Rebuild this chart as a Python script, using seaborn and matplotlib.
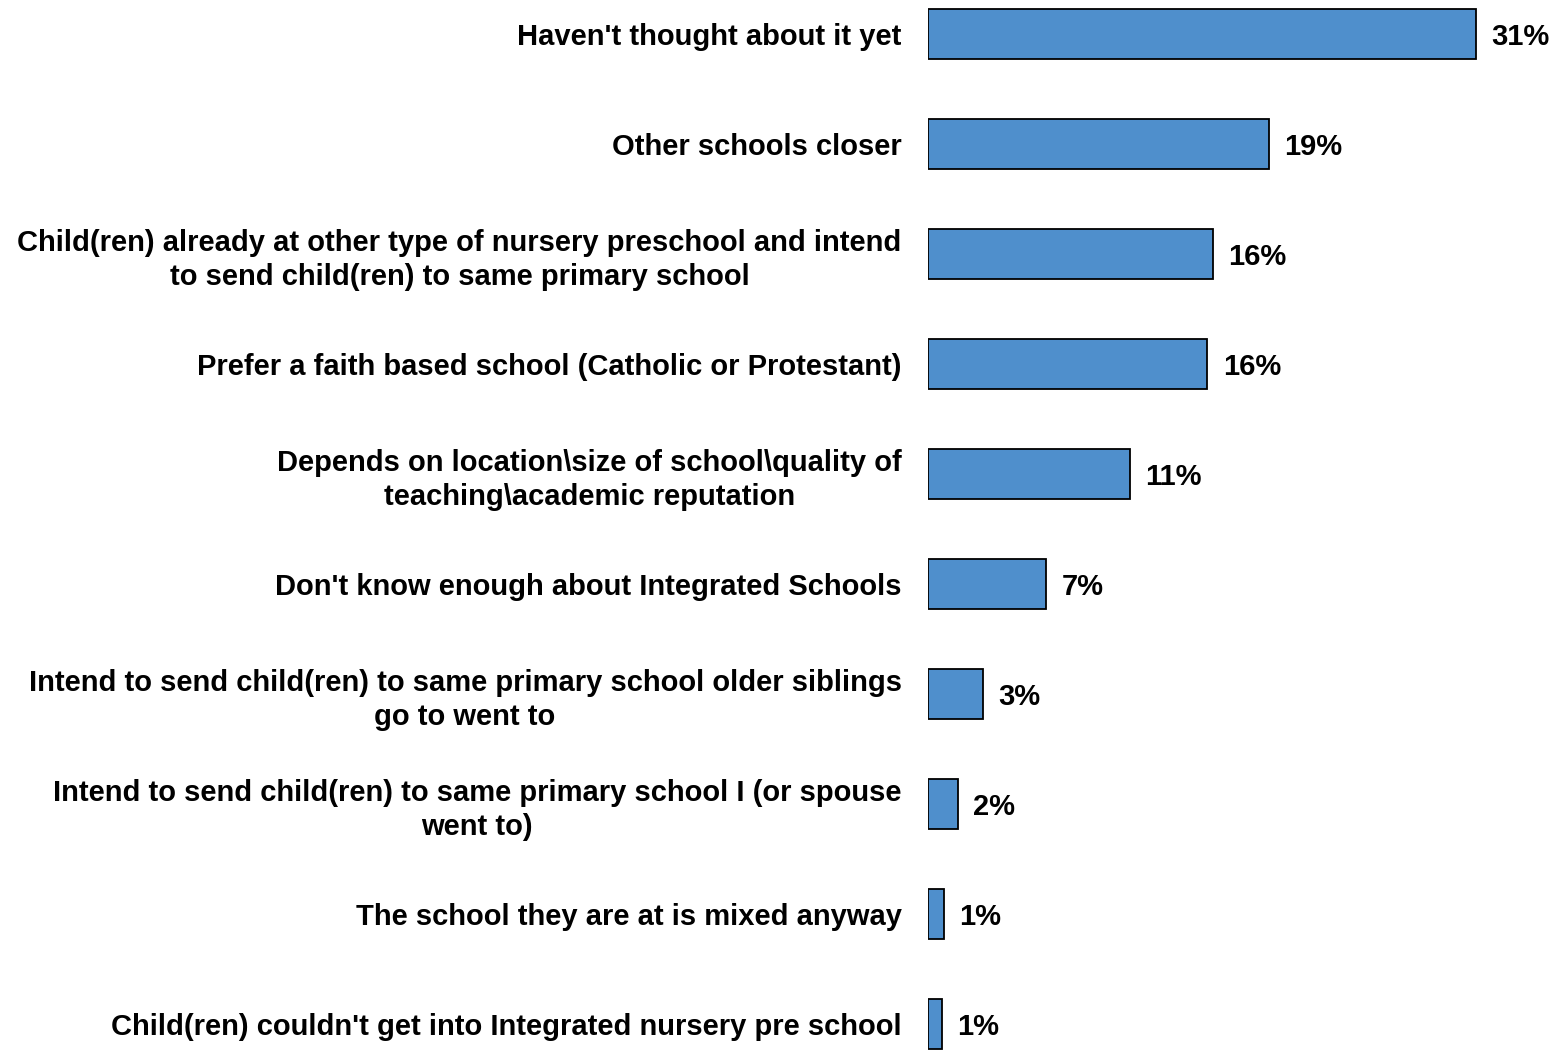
import seaborn as sns
import matplotlib.pyplot as plt
import pandas as pd

# Reasons for not choosing an integrated school
reasons = [
    "Haven't thought about it yet",
    "Other schools closer",
    "Child(ren) already at other type of nursery preschool and intend\nto send child(ren) to same primary school",
    "Prefer a faith based school (Catholic or Protestant)",
    "Depends on location\\size of school\\quality of\nteaching\\academic reputation",
    "Don't know enough about Integrated Schools",
    "Intend to send child(ren) to same primary school older siblings\ngo to went to",
    "Intend to send child(ren) to same primary school I (or spouse\nwent to)",
    "The school they are at is mixed anyway",
    "Child(ren) couldn't get into Integrated nursery pre school",
]
shares = [31.0, 19.3, 16.1, 15.8, 11.4, 6.7, 3.1, 1.7, 0.9, 0.8]
share_labels = ["31%", "19%", "16%", "16%", "11%", "7%", "3%", "2%", "1%", "1%"]

df = pd.DataFrame({"reason": reasons, "share": shares})

sns.set_style("white")
plt.rcParams['font.family'] = ['Liberation Sans', 'DejaVu Sans']
plt.rcParams['font.weight'] = 'bold'
plt.rcParams['text.color'] = 'black'
plt.rcParams['ytick.color'] = 'black'

fig = plt.figure(figsize=(15.56, 10.51), dpi=100)
ax = fig.add_axes([928 / 1556, 0, (1547 - 928) / 1556, 1])

sns.barplot(data=df, x="share", y="reason", orient="h", color="#4F8FCC",
            saturation=1, width=0.455, edgecolor="black", linewidth=1.3, ax=ax)

ax.set_xlim(0, 35)
ax.set_ylim(9.245, -0.309)
texts = ax.bar_label(ax.containers[0], labels=share_labels, padding=11,
                     fontsize=21, fontweight='bold', color='black')
for t in texts:
    t.set_va('center_baseline')

ax.set_xlabel("")
ax.set_ylabel("")
ax.set_xticks([])
ax.tick_params(axis='y', length=0, pad=19)
for lab in ax.get_yticklabels():
    lab.set_fontsize(21)
    lab.set_fontweight('bold')
    lab.set_color('black')
    lab.set_multialignment('center')
    lab.set_linespacing(1.25)
sns.despine(ax=ax, left=True, bottom=True)

plt.savefig("out.png", dpi=100)
